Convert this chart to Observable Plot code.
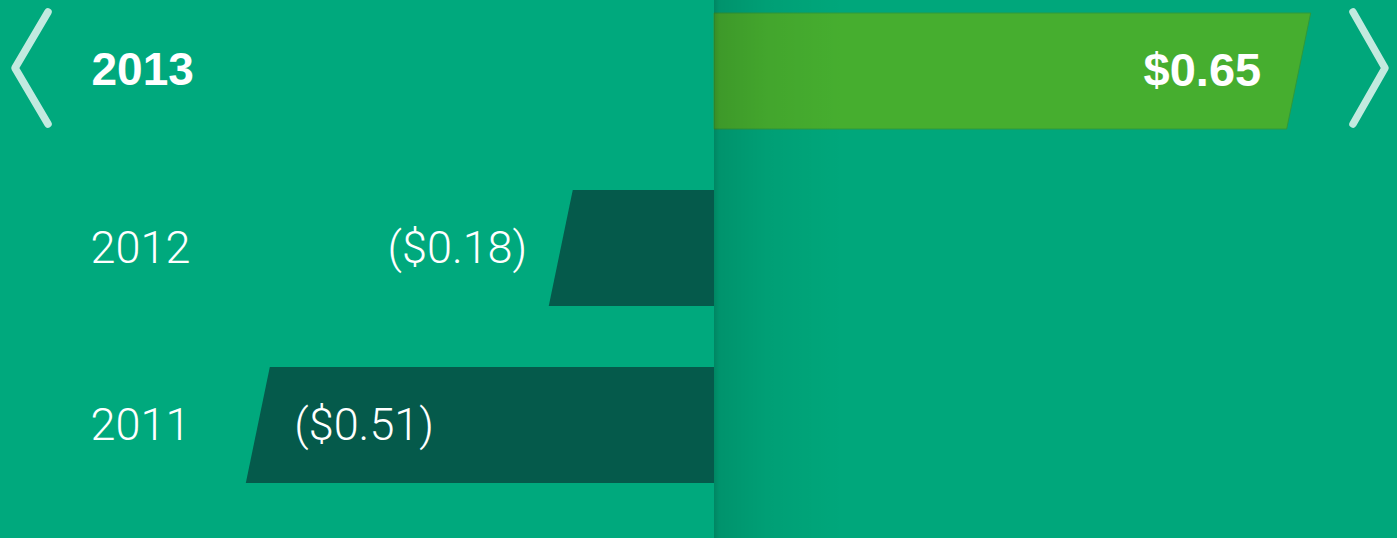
<!DOCTYPE html>
<html>
<head>
<meta charset="utf-8">
<script src="https://cdn.jsdelivr.net/npm/d3@7"></script>
<script src="https://cdn.jsdelivr.net/npm/@observablehq/plot@0.6"></script>
<style>
  html, body { margin: 0; padding: 0; background: #00A97D; overflow: hidden; }
  #chart svg { display: block; }
</style>
</head>
<body>
<div id="chart"></div>
<script>
// ---- data ----
const years = ["2013", "2012", "2011"];
const values = [0.65, -0.18, -0.51];
const valueLabels = ["$0.65", "($0.18)", "($0.51)"];
const currentYear = "2013";

const rows = years.map((year, i) => ({ year, value: values[i], label: valueLabels[i], current: year === currentYear }));

const W = 1397, H = 538;
const zeroPx = 714, pxPerUnit = 918;
const SLANT = 24;

const BG = "#00A97D", PANEL = "#00A77B", POS = "#46AE2F", NEG = "#055A4B";
const BOLD = "Liberation Sans, Arial, sans-serif";
const LIGHT = "Roboto, sans-serif";

const chart = Plot.plot({
  width: W,
  height: H,
  margin: 0,
  style: { background: BG, overflow: "visible" },
  x: { domain: [-zeroPx / pxPerUnit, (W - zeroPx) / pxPerUnit], range: [0, W], axis: null },
  y: { type: "band", domain: years, range: [13, 483], paddingInner: 0.345, paddingOuter: 0, axis: null },
  marks: [
    Plot.barX(rows, { x1: 0, x2: "value", y: "year", fill: d => d.value > 0 ? POS : NEG, inset: 0 }),
    // current year label (bold)
    Plot.text(rows.filter(d => d.current), {
      y: "year", text: "year", frameAnchor: "left", dx: 91, dy: -1, textAnchor: "start",
      fill: "white", fontSize: 46, fontWeight: "bold", fontFamily: BOLD
    }),
    // other year labels (light)
    Plot.text(rows.filter(d => !d.current), {
      y: "year", text: "year", frameAnchor: "left", dx: 90, textAnchor: "start",
      fill: "white", fontSize: 45, fontWeight: 300, fontFamily: LIGHT
    }),
    // positive value labels (inside, right)
    Plot.text(rows.filter(d => d.value > 0), {
      x: "value", y: "year", text: "label", textAnchor: "end", dx: -50, dy: -1,
      fill: "white", fontSize: 47, fontWeight: "bold", fontFamily: BOLD
    }),
    // small negative labels (outside, left)
    Plot.text(rows.filter(d => d.value < 0 && d.value > -0.3), {
      x: "value", y: "year", text: "label", textAnchor: "end", dx: -22,
      fill: "white", fontSize: 45, fontWeight: 300, fontFamily: LIGHT
    }),
    // large negative labels (inside, left)
    Plot.text(rows.filter(d => d.value <= -0.3), {
      x: "value", y: "year", text: "label", textAnchor: "start", dx: 48,
      fill: "white", fontSize: 45, fontWeight: 300, fontFamily: LIGHT
    })
  ]
});

document.getElementById("chart").appendChild(chart);

// ---- post-process: slanted bars, panel, shadow, chevrons ----
const svg = d3.select(chart);
const ns = "http://www.w3.org/2000/svg";
const x0 = chart.scale("x").apply(0);

const defs = svg.insert("defs", ":first-child");
const grad = defs.append("linearGradient").attr("id", "shadowGrad").attr("x1", 0).attr("x2", 1).attr("y1", 0).attr("y2", 0);
grad.append("stop").attr("offset", 0).attr("stop-color", "#000").attr("stop-opacity", 0.2);
grad.append("stop").attr("offset", 0.04).attr("stop-color", "#000").attr("stop-opacity", 0.12);
grad.append("stop").attr("offset", 0.4).attr("stop-color", "#000").attr("stop-opacity", 0.05);
grad.append("stop").attr("offset", 1).attr("stop-color", "#000").attr("stop-opacity", 0);

// right panel behind bars
svg.insert("rect", "defs + *")
  .attr("x", x0).attr("y", 0).attr("width", W - x0).attr("height", H)
  .attr("fill", PANEL);

// convert bars to parallelograms
const rects = svg.selectAll("g[aria-label='bar'] rect").nodes();
rects.forEach((r, i) => {
  const d = rows[i];
  const x = +r.getAttribute("x"), y = +r.getAttribute("y");
  const w = +r.getAttribute("width"), h = +r.getAttribute("height");
  const pts = d.value > 0
    ? [[x, y], [x + w, y], [x + w - SLANT, y + h], [x, y + h]]
    : [[x + SLANT, y], [x + w, y], [x + w, y + h], [x, y + h]];
  const p = document.createElementNS(ns, "polygon");
  p.setAttribute("points", pts.map(q => q.join(",")).join(" "));
  p.setAttribute("fill", r.getAttribute("fill"));
  if (d.value > 0) {
    p.setAttribute("stroke", "#2E9A3C");
    p.setAttribute("stroke-width", 1);
  }
  r.parentNode.replaceChild(p, r);
});

// shadow over the right panel (after bars, before texts)
const textG = svg.select("g[aria-label='text']").node();
const shadow = document.createElementNS(ns, "rect");
shadow.setAttribute("x", x0);
shadow.setAttribute("y", 0);
shadow.setAttribute("width", 130);
shadow.setAttribute("height", H);
shadow.setAttribute("fill", "url(#shadowGrad)");
chart.insertBefore(shadow, textG);

// navigation chevrons (decoration)
const chev = svg.append("g")
  .attr("fill", "none").attr("stroke", "rgba(255,255,255,0.76)")
  .attr("stroke-width", 7.5).attr("stroke-linecap", "round").attr("stroke-linejoin", "round");
chev.append("polyline").attr("points", "48,12 15,68 48,124");
chev.append("polyline").attr("points", `${W - 44},12 ${W - 12},68 ${W - 44},124`);
</script>
</body>
</html>
